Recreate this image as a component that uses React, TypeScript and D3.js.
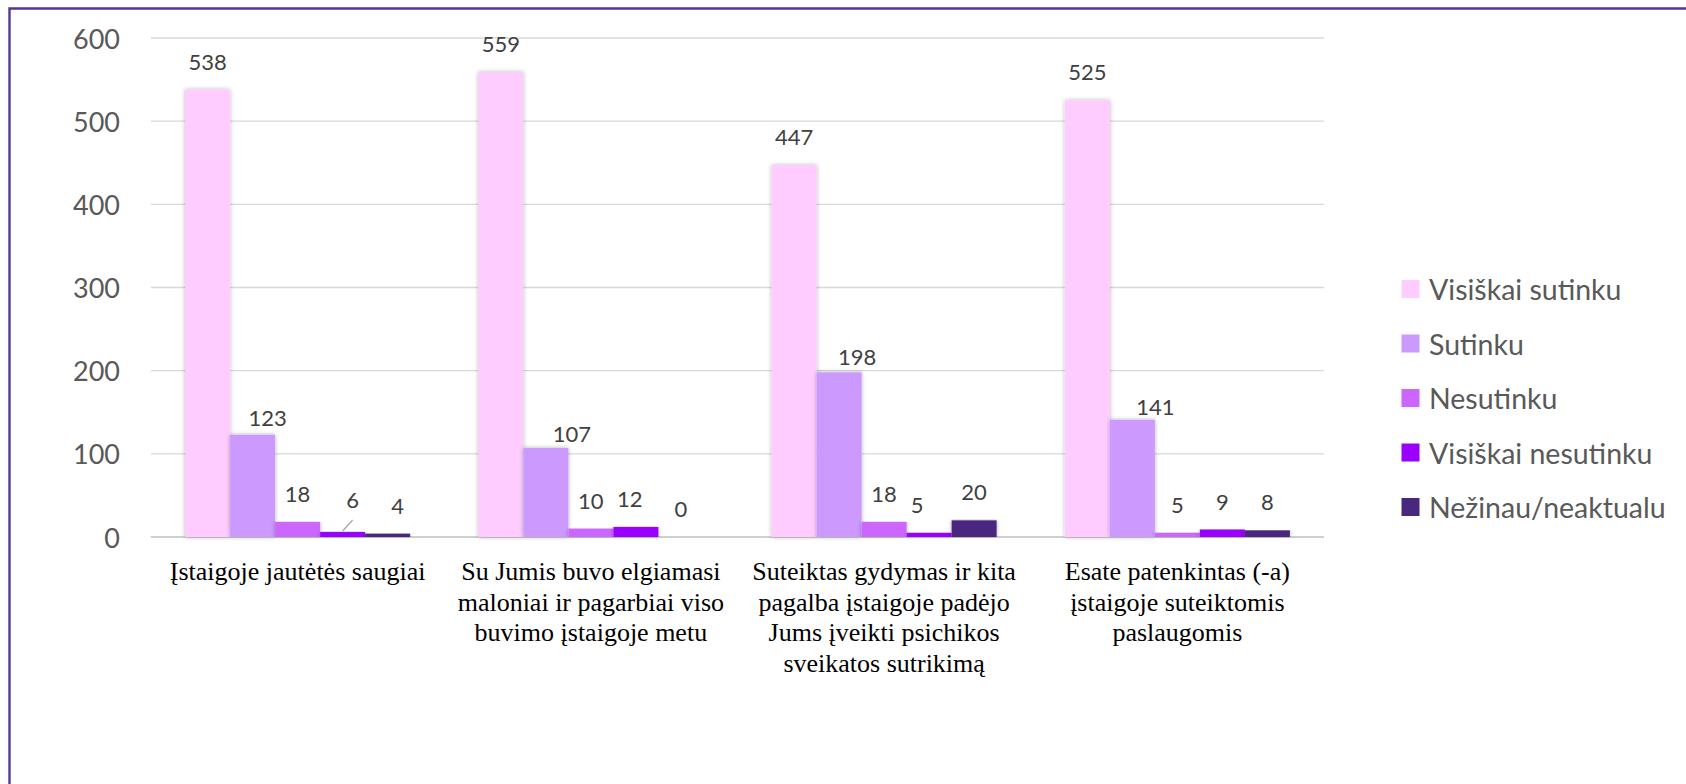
import React from 'react';
import { scaleBand, scaleLinear } from 'd3';

const categories = [
  'Įstaigoje jautėtės saugiai',
  'Su Jumis buvo elgiamasi maloniai ir pagarbiai viso buvimo įstaigoje metu',
  'Suteiktas gydymas ir kita pagalba įstaigoje padėjo Jums įveikti psichikos sveikatos sutrikimą',
  'Esate patenkintas (-a) įstaigoje suteiktomis paslaugomis',
];
// how the category text breaks into lines under the axis
const categoryLines = [
  ['Įstaigoje jautėtės saugiai'],
  ['Su Jumis buvo elgiamasi', 'maloniai ir pagarbiai viso', 'buvimo įstaigoje metu'],
  ['Suteiktas gydymas ir kita', 'pagalba įstaigoje padėjo', 'Jums įveikti psichikos', 'sveikatos sutrikimą'],
  ['Esate patenkintas (-a)', 'įstaigoje suteiktomis', 'paslaugomis'],
];

const series = ['Visiškai sutinku', 'Sutinku', 'Nesutinku', 'Visiškai nesutinku', 'Nežinau/neaktualu'];
const colors = ['#FFCCFF', '#CC99FF', '#CC66FF', '#9900FF', '#48277F'];

const visiskaiSutinku = [538, 559, 447, 525];
const sutinku = [123, 107, 198, 141];
const nesutinku = [18, 10, 18, 5];
const visiskaiNesutinku = [6, 12, 5, 9];
const nezinau = [4, 0, 20, 8];
const values = [visiskaiSutinku, sutinku, nesutinku, visiskaiNesutinku, nezinau];

const yTicks = [0, 100, 200, 300, 400, 500, 600];

// manual label placement from the original (series -> [dx, baseline gap])
const labelNudge: Record<string, [number, number]> = {
  '0-1': [15, 9],
  '1-1': [26, 6],
  '2-1': [18, 7],
  '3-1': [23, 5],
  '0-3': [10, 24],
  '0-4': [10, 20],
  '1-3': [-6, 20],
  '2-3': [-12, 20],
};

const sansFont = 'Lato, "Open Sans", sans-serif';
const serifFont = '"Liberation Serif", "Times New Roman", serif';

export default function App() {
  const W = 1686, H = 784;
  const plot = { left: 151, right: 1324, top: 38, bottom: 537 };

  const y = scaleLinear().domain([0, 600]).range([plot.bottom, plot.top]);
  const x0 = scaleBand<string>().domain(categories).range([plot.left, plot.right]).padding(0);
  const x1 = scaleBand<string>().domain(series).range([0, x0.bandwidth()]).paddingInner(0).paddingOuter(0.758);

  return (
    <>
      <style>{`body{margin:0}`}</style>
      <svg width={W} height={H} style={{ display: 'block', background: '#fff' }}>
        <defs>
          <filter id="shadow" x="-20%" y="-5%" width="140%" height="110%">
            <feDropShadow dx="0" dy="0" stdDeviation="2" floodColor="#000" floodOpacity="0.3" />
          </filter>
        </defs>

        {/* outer frame */}
        <path d={`M9.5,${H + 2} V8.5 H${W + 2}`} fill="none" stroke="#563599" strokeWidth={2.4} />

        {/* gridlines + y ticks */}
        {yTicks.map((t) => (
          <g key={t}>
            <line
              x1={plot.left}
              x2={plot.right}
              y1={y(t)}
              y2={y(t)}
              stroke={t === 0 ? '#D0D0D0' : '#D9D9D9'}
              strokeWidth={t === 0 ? 2.2 : 1.4}
            />
            <text
              x={120}
              y={y(t)}
              textAnchor="end"
              dominantBaseline="central"
              fontFamily={sansFont}
              fontSize={27}
              fill="#595959"
            >
              {t}
            </text>
          </g>
        ))}

        {/* bars */}
        {categories.map((c, ci) => (
          <g key={c} transform={`translate(${x0(c)},0)`}>
            {series.map((s, si) => {
              const v = values[si][ci];
              const bx = x1(s)!;
              return (
                <rect
                  key={s}
                  x={bx}
                  y={y(v)}
                  width={x1.bandwidth()}
                  height={y(0) - y(v)}
                  fill={colors[si]}
                  filter={v > 0 ? 'url(#shadow)' : undefined}
                />
              );
            })}
          </g>
        ))}

        {/* data labels */}
        {categories.map((c, ci) =>
          series.map((s, si) => {
            const v = values[si][ci];
            const cx = x0(c)! + x1(s)! + x1.bandwidth() / 2;
            const [dx, gap] = labelNudge[`${ci}-${si}`] || [0, 20];
            const lx = cx + dx;
            const ly = y(v) - gap;
            return (
              <g key={`${ci}-${si}`}>
                {ci === 0 && si === 3 && (
                  <line x1={cx} y1={y(v) - 1} x2={cx + 10} y2={y(v) - 12} stroke="#A6A6A6" strokeWidth={1.3} />
                )}
                <text x={lx} y={ly} textAnchor="middle" fontFamily={sansFont} fontSize={22} fill="#404040">
                  {v}
                </text>
              </g>
            );
          })
        )}

        {/* category labels */}
        {categories.map((c, ci) => (
          <text
            key={c}
            x={x0(c)! + x0.bandwidth() / 2}
            y={580}
            textAnchor="middle"
            fontFamily={serifFont}
            fontSize={26}
            fill="#000"
          >
            {categoryLines[ci].map((ln, li) => (
              <tspan key={li} x={x0(c)! + x0.bandwidth() / 2} dy={li === 0 ? 0 : 30.5}>
                {ln}
              </tspan>
            ))}
          </text>
        ))}

        {/* legend */}
        {series.map((s, si) => {
          const cy = 289 + si * 54.5;
          return (
            <g key={s}>
              <rect x={1401.5} y={cy - 9} width={18} height={18} fill={colors[si]} />
              <text x={1429} y={cy} dominantBaseline="central" fontFamily={sansFont} fontSize={28.5} fill="#595959">
                {s}
              </text>
            </g>
          );
        })}
      </svg>
    </>
  );
}
